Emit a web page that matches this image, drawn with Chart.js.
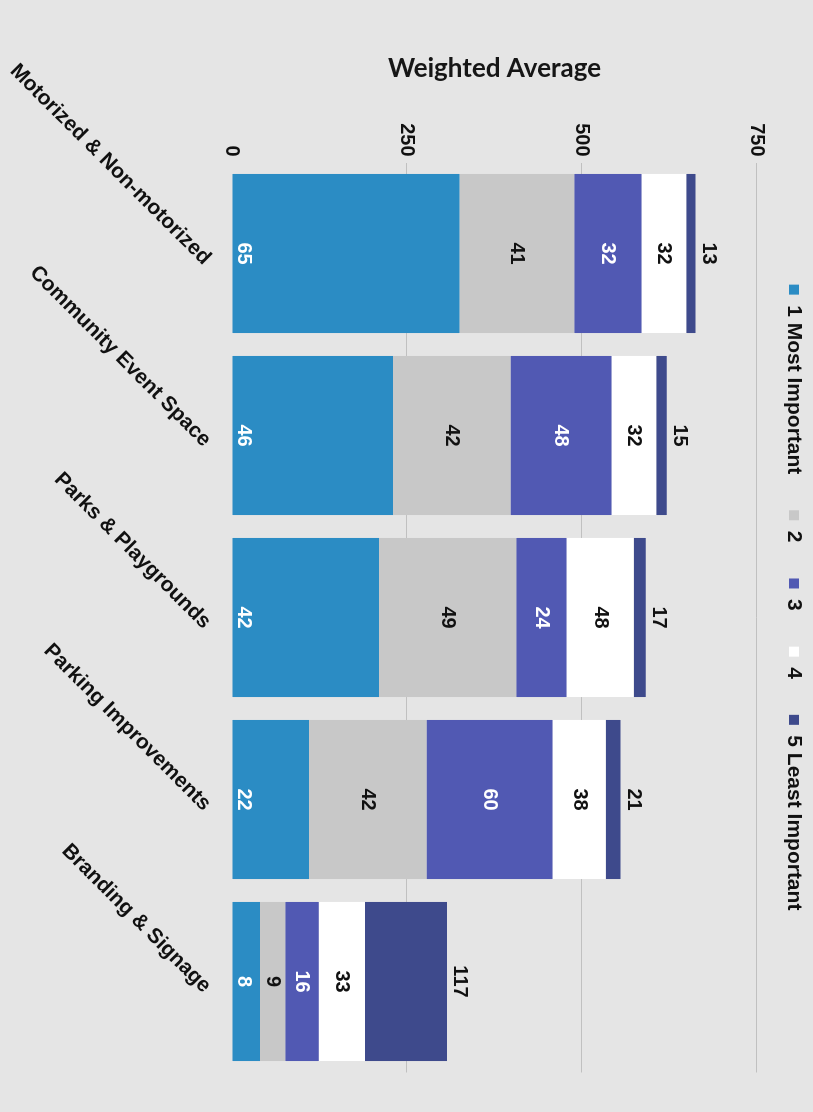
<!DOCTYPE html>
<html>
<head>
<meta charset="utf-8">
<title>Weighted Average</title>
<script src="https://cdn.jsdelivr.net/npm/chart.js@4.4.1/dist/chart.umd.min.js"></script>
<style>
html, body { margin:0; padding:0; background:#e5e5e5; overflow:hidden; width:813px; height:1112px; }
/* the chart is drawn as a normal column chart and the whole thing is turned a quarter clockwise */
#wrap { position:absolute; left:0; top:0; width:1112px; height:813px; transform-origin:0 0; transform:translateX(813px) rotate(90deg); }
</style>
</head>
<body>
<div id="wrap"><canvas id="canvas" width="1112" height="813"></canvas></div>
<script>
var categories = ["Motorized & Non-motorized", "Community Event Space", "Parks & Playgrounds", "Parking Improvements", "Branding & Signage"];
var seriesNames = ["1 Most Important", "2", "3", "4", "5 Least Important"];
var weights = [5, 4, 3, 2, 1];
// number of answers per rank (the figures printed on the bars)
var rank1 = [65, 46, 42, 22, 8];
var rank2 = [41, 42, 49, 42, 9];
var rank3 = [32, 48, 24, 60, 16];
var rank4 = [32, 32, 48, 38, 33];
var rank5 = [13, 15, 17, 21, 117];
var yTicks = [0, 250, 500, 750];

var colors = ["#2b8cc4", "#c8c8c8", "#5159b3", "#ffffff", "#3e4a8c"];
var labelColors = ["#ffffff", "#111111", "#ffffff", "#111111", "#111111"];
var FONT = '"Liberation Sans", Arial, sans-serif';

var counts = [rank1, rank2, rank3, rank4, rank5];
var datasets = [];
for (var i = 0; i < counts.length; i++) {
	var data = [];
	for (var j = 0; j < counts[i].length; j++) {
		data[j] = counts[i][j] * weights[i];	// weighted score
	}
	datasets.push({
		label: seriesNames[i],
		data: data,
		counts: counts[i],
		backgroundColor: colors[i],
		borderWidth: 0
	});
}

// writes the answer counts on the segments
var countLabels = {
	id: "countLabels",
	afterDatasetsDraw: function(chart){
		var ctx = chart.ctx;
		ctx.save();
		ctx.font = "bold 20px " + FONT;
		ctx.textAlign = "center";
		ctx.textBaseline = "middle";
		var last = chart.data.datasets.length - 1;
		chart.data.datasets.forEach(function(ds, i){
			var meta = chart.getDatasetMeta(i);
			meta.data.forEach(function(bar, j){
				var y;
				if(i == 0){ y = bar.base - 11; }
				else if(i == last){ y = bar.y - 13; }
				else{ y = (bar.y + bar.base) / 2; }
				ctx.fillStyle = labelColors[i];
				ctx.fillText(String(ds.counts[j]), bar.x, y);
			});
		});
		ctx.restore();
	}
};

// legend sits a little left of the plot centre in the original
var legendShift = {
	id: "legendShift",
	afterLayout: function(chart){
		chart.legend.left -= 20;
		chart.legend.right -= 20;
	}
};

var ctx = document.getElementById("canvas").getContext("2d");
var chart = new Chart(ctx, {
	type: "bar",
	data: { labels: categories, datasets: datasets },
	plugins: [countLabels, legendShift],
	options: {
		responsive: false,
		animation: false,
		devicePixelRatio: 1,
		layout: { padding: { left: 0, right: 39.5, top: -27.5, bottom: 0 } },
		datasets: { bar: { categoryPercentage: 1, barPercentage: 0.874 } },
		plugins: {
			tooltip: { enabled: false },
			legend: {
				position: "top",
				fullSize: false,
				labels: {
					color: "#111111",
					font: { family: FONT, size: 21, weight: "bold" },
					boxWidth: 10,
					boxHeight: 10,
					padding: 36
				}
			},
			// empty title used only as a spacer under the legend
			title: {
				display: true,
				text: "",
				fullSize: false,
				weight: 500,
				font: { size: 1, lineHeight: 1 },
				padding: { top: 15.5, bottom: 0 }
			}
		},
		scales: {
			x: {
				stacked: true,
				grid: { display: false },
				border: { display: false },
				ticks: {
					autoSkip: false,
					minRotation: 45,
					maxRotation: 45,
					padding: 8,
					labelOffset: 8,
					color: "#111111",
					font: { family: FONT, size: 21, weight: "bold" }
				},
				afterFit: function(scale){ scale.height = 232; }
			},
			y: {
				stacked: true,
				min: 0,
				max: 750,
				afterBuildTicks: function(scale){
					scale.ticks = yTicks.map(function(v){ return { value: v }; });
				},
				grid: {
					drawTicks: false,
					lineWidth: 1,
					color: function(c){ return c.tick && c.tick.value === 0 ? "rgba(0,0,0,0)" : "#c0c0c0"; }
				},
				border: { display: false },
				ticks: {
					padding: 6,
					color: "#111111",
					font: { family: FONT, size: 20, weight: "bold" }
				},
				title: {
					display: true,
					text: "Weighted Average",
					color: "#161616",
					font: { family: "Lato, 'Open Sans', sans-serif", size: 26, weight: "bold" },
					padding: { top: 53.4, bottom: 0 }
				},
				afterFit: function(scale){ scale.width = 162.5; }
			}
		}
	}
});
</script>
</body>
</html>
